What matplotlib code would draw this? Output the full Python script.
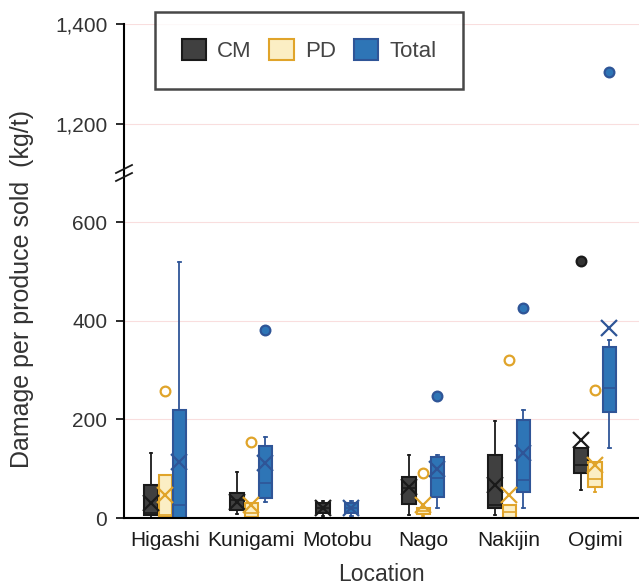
import matplotlib
matplotlib.use('Agg')
import matplotlib.pyplot as plt
from matplotlib.patches import Patch
from matplotlib.ticker import FuncFormatter

plt.rcParams['font.family'] = ['Liberation Sans', 'DejaVu Sans']

# data (kg/t)
locations = ['Higashi', 'Kunigami', 'Motobu', 'Nago', 'Nakijin', 'Ogimi']
series = ['CM', 'PD', 'Total']

# per location: (whislo, q1, med, q3, whishi, mean, fliers); None = no data
cm = [(0, 6, 10, 67, 132, 30, []),
      (8, 16, 37, 51, 93, 33, []),
      (5, 10, 20, 30, 35, 20, []),
      (6, 28, 61, 83, 128, 63, []),
      (6, 20, 26, 128, 197, 67, []),
      (57, 91, 108, 142, 142, 158, [522])]
pd_ = [(0, 2, 6, 87, 87, 47, [258]),
       (0, 2, 10, 30, 30, 26, [154]),
       None,
       (5, 8, 14, 20, 24, 26, [91]),
       (0, 0, 12, 26, 26, 47, [321]),
       (53, 63, 79, 114, 114, 108, [260])]
total = [(0, 0, 26, 219, 520, 114, []),
         (32, 40, 71, 146, 165, 112, [382]),
         (5, 10, 20, 30, 35, 20, []),
         (20, 43, 81, 124, 128, 99, [248]),
         (20, 53, 77, 199, 219, 132, [426]),
         (142, 215, 264, 347, 361, 386, [1305])]

colors = {'CM': ('#404040', '#1a1a1a', '#1a1a1a'),
          'PD': ('#fbeec4', '#e0a42a', '#e0a42a'),
          'Total': ('#2e75b6', '#2f5597', '#2f5597')}
flier_face = {'CM': '#333333', 'PD': 'white', 'Total': '#2e75b6'}

fig = plt.figure(figsize=(6.39, 5.87), dpi=100)
left, right = 124 / 639, 1.0
ax_top = fig.add_axes([left, 1 - 173 / 587, right - left, (173 - 24) / 587])
ax_bot = fig.add_axes([left, 1 - 518 / 587, right - left, (518 - 173) / 587])

offsets = {'CM': -0.165, 'PD': 0.0, 'Total': 0.165}
width = 0.155

for name, data in zip(series, [cm, pd_, total]):
    face, edge, mean_c = colors[name]
    stats, pos = [], []
    for i, d in enumerate(data):
        if d is None:
            continue
        lo, q1, med, q3, hi, mean, fl = d
        stats.append(dict(whislo=lo, q1=q1, med=med, q3=q3, whishi=hi,
                          mean=mean, fliers=fl))
        pos.append(i + offsets[name])
    for ax in (ax_top, ax_bot):
        ax.bxp(stats, positions=pos, widths=width, patch_artist=True,
               showmeans=True, capwidths=0.03,
               boxprops=dict(facecolor=face, edgecolor=edge, linewidth=1.5),
               medianprops=dict(color=edge, linewidth=1.2),
               whiskerprops=dict(color=edge, linewidth=1.3),
               capprops=dict(color=edge, linewidth=1.3),
               meanprops=dict(marker='x', markersize=11.5, markeredgewidth=1.6,
                              markeredgecolor=mean_c),
               flierprops=dict(marker='o', markersize=7, markerfacecolor=flier_face[name],
                               markeredgecolor=edge, markeredgewidth=1.6))

ax_bot.set_ylim(0, 700)
ax_top.set_ylim(1102, 1400)
for ax in (ax_top, ax_bot):
    ax.set_xlim(-0.48, 5.51)
    ax.spines['top'].set_visible(False)
    ax.spines['right'].set_visible(False)
    ax.spines['left'].set_linewidth(1.5)
    ax.yaxis.grid(True, color='#f9dede', linewidth=0.8)
    ax.set_axisbelow(True)
    ax.tick_params(axis='y', length=6, width=1.3, pad=6, labelsize=15, colors='#1a1a1a',
                   labelcolor='#333333')
    ax.yaxis.set_major_formatter(FuncFormatter(lambda v, p: f'{int(v):,}'))

ax_top.spines['bottom'].set_visible(False)
ax_top.set_xticks([])
ax_top.set_yticks([1200, 1400])
ax_bot.set_yticks([0, 200, 400, 600])
ax_bot.spines['bottom'].set_linewidth(1.5)
ax_bot.set_xticks(range(len(locations)))
ax_bot.set_xticklabels(locations)
ax_bot.tick_params(axis='x', length=0, pad=9, labelsize=15, labelcolor='#1a1a1a')
ax_bot.set_xlabel('Location', fontsize=16.5, color='#333333', labelpad=10)
fig.text(0.034, 0.508, 'Damage per produce sold  (kg/t)', rotation=90, fontsize=18,
         color='#333333', ha='center', va='center')

# break marks on the y axis
for dy in (-4, 4):
    y = (587 - 173 + dy) / 587
    fig.add_artist(plt.Line2D([left - 8 / 639, left + 8 / 639], [y - 4 / 587, y + 4 / 587],
                              color='#1a1a1a', linewidth=1.3))

handles = [Patch(facecolor=colors[s][0], edgecolor=colors[s][1], linewidth=1.5) for s in series]
leg = fig.legend(handles, series, loc='center', bbox_to_anchor=(0.4836, 0.914), ncol=3,
                 fontsize=16, frameon=True, fancybox=False, edgecolor='#1a1a1a',
                 handlelength=1.1, handleheight=1.1, borderpad=1.2, columnspacing=0.8,
                 handletextpad=0.5, labelcolor='#444444')
leg.get_frame().set_linewidth(1.8)

fig.savefig('out.png', dpi=100)
